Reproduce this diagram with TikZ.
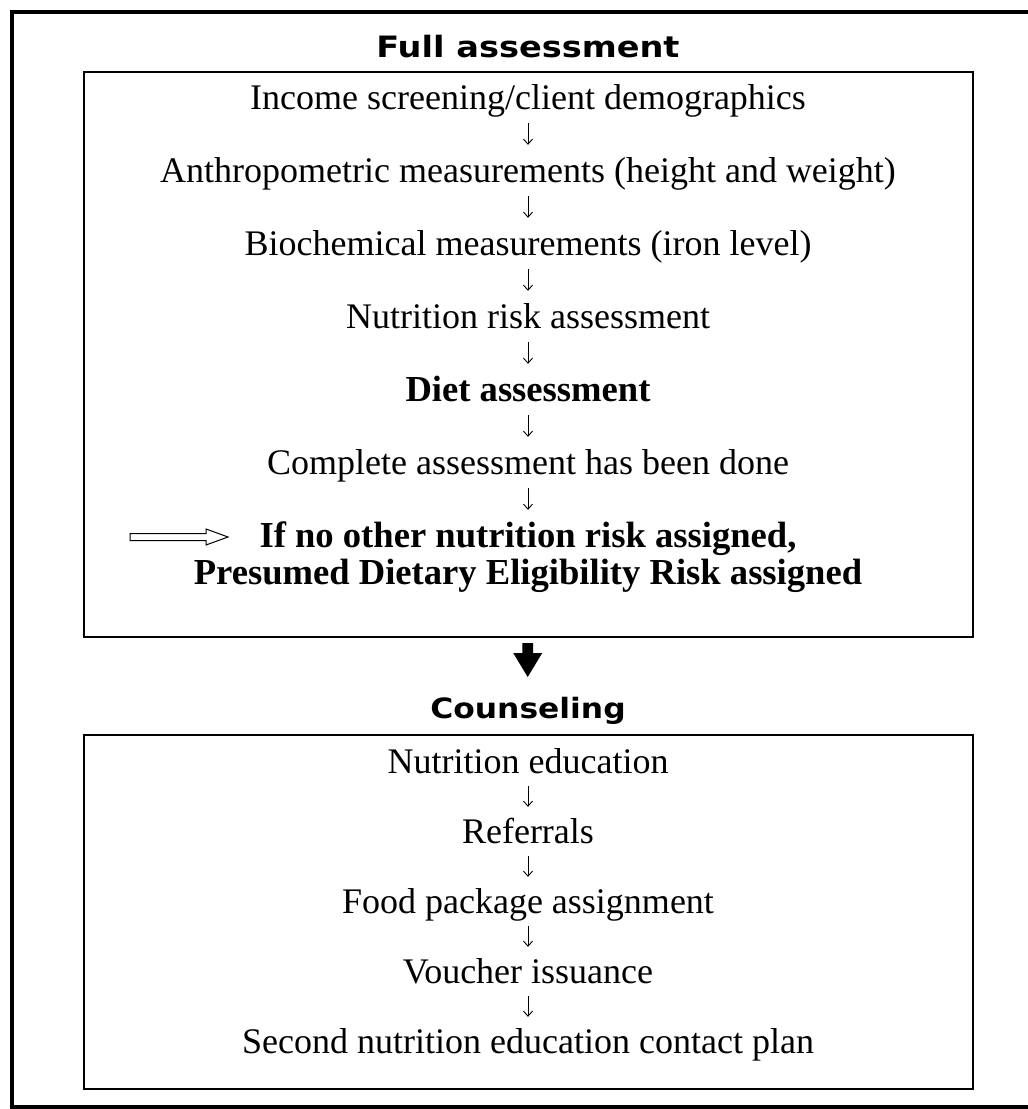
\documentclass[tikz,border=0pt]{standalone}
\usepackage{fontspec}
\usepackage{graphicx}
\setmainfont{Liberation Serif}
\newfontfamily\headfont{DejaVu Sans}
\usetikzlibrary{arrows.meta}
\begin{document}
\begin{tikzpicture}[x=1pt,y=-1pt,
  txt/.style={font=\fontsize{36}{40}\selectfont, anchor=base, inner sep=0pt, text height=37pt, text depth=14pt},
  btxt/.style={txt, font=\fontsize{36.6}{40}\selectfont\bfseries},
  ctxt/.style={txt, text height=36pt, text depth=13pt},
  head/.style={font=\headfont\bfseries\fontsize{28}{32}\selectfont, anchor=base, inner sep=0pt},
  flow/.style={-{Straight Barb[length=5pt,width=9pt]}, line width=0.9pt},
  frame/.style={line width=2.6pt},
]
\useasboundingbox (0,0) rectangle (1028,1109);
% outer frame
\draw[line width=4pt] (1040,12) -- (12,12) -- (12,1107) -- (1040,1107);
% boxes
\draw[frame] (84,72) rectangle (973,637);
\draw[frame] (84,735) rectangle (973,1089);
% headings
\node[head] (h1) at (528,57) {\scalebox{1.2}[1.05]{Full assessment}};
\node[head] (h2) at (528,718) {\scalebox{1.12}[1]{Counseling}};
% box 1
\node[txt] (a1) at (528,109) {Income screening/client demographics};
\node[txt] (a2) at (528,182) {Anthropometric measurements (height and weight)};
\node[txt] (a3) at (528,255) {Biochemical measurements (iron level)};
\node[txt] (a4) at (528,328) {Nutrition risk assessment};
\node[btxt] (a5) at (528,401) {Diet assessment};
\node[txt] (a6) at (528,474) {Complete assessment has been done};
\node[btxt] (a7) at (528,547) {If no other nutrition risk assigned,};
\node[btxt] (a8) at (528,584) {Presumed Dietary Eligibility Risk assigned};
\foreach \p/\q in {a1/a2,a2/a3,a3/a4,a4/a5,a5/a6,a6/a7}
  \draw[flow] (\p.south) -- (\q.north);
% hollow pointer arrow
\coordinate (hp) at (228,537);
\draw[line width=1pt, fill=white]
  ([xshift=-98pt,yshift=-3.5pt]hp) -- ([xshift=-22pt,yshift=-3.5pt]hp) -- ([xshift=-22pt,yshift=-8pt]hp)
  -- (hp) -- ([xshift=-22pt,yshift=8pt]hp) -- ([xshift=-22pt,yshift=3.5pt]hp)
  -- ([xshift=-98pt,yshift=3.5pt]hp) -- cycle;
% bold down arrow between sections
\coordinate (da) at (527.7,677);
\fill ([xshift=-5.3pt,yshift=34pt]da) -- ([xshift=5.3pt,yshift=34pt]da) -- ([xshift=5.3pt,yshift=24pt]da)
  -- ([xshift=14.5pt,yshift=24pt]da) -- (da) -- ([xshift=-14.5pt,yshift=24pt]da)
  -- ([xshift=-5.3pt,yshift=24pt]da) -- cycle;
% box 2
\node[ctxt] (b1) at (528,773) {Nutrition education};
\node[ctxt] (b2) at (528,843) {Referrals};
\node[ctxt] (b3) at (528,913) {Food package assignment};
\node[ctxt] (b4) at (528,983) {Voucher issuance};
\node[ctxt] (b5) at (528,1053) {Second nutrition education contact plan};
\foreach \p/\q in {b1/b2,b2/b3,b3/b4,b4/b5}
  \draw[flow] (\p.south) -- (\q.north);
\end{tikzpicture}
\end{document}
